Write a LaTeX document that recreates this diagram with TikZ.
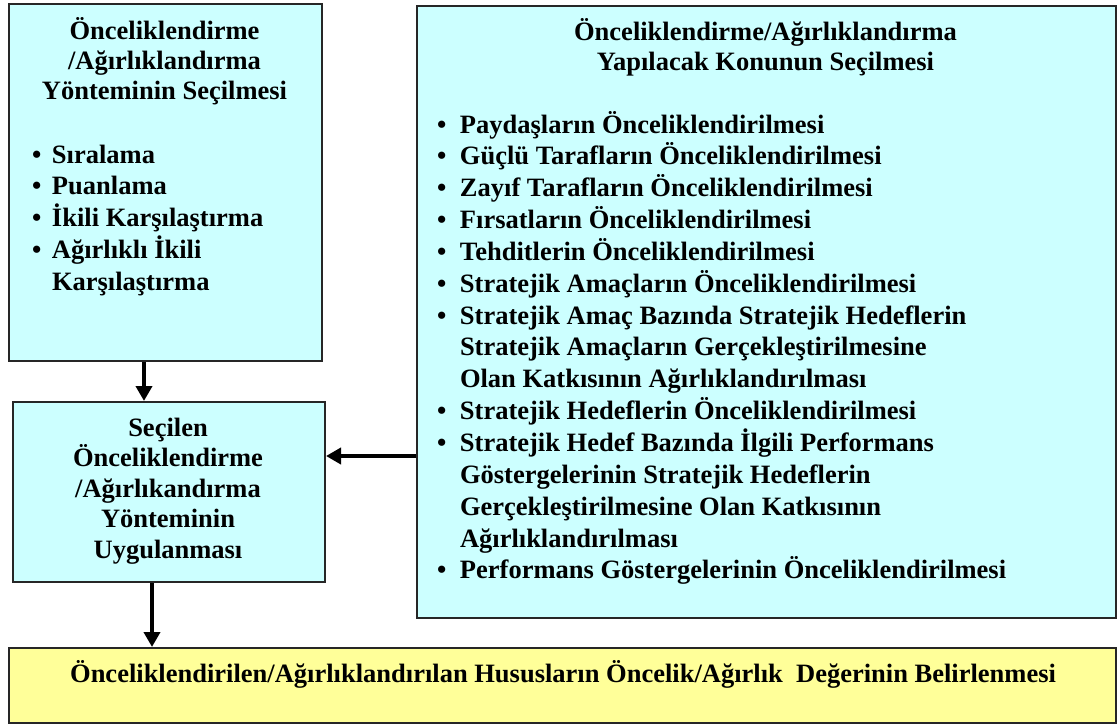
\documentclass[tikz,border=0pt]{standalone}
\usepackage{fontspec}
\setmainfont{Liberation Serif}
\usetikzlibrary{arrows.meta}
\definecolor{boxcyan}{HTML}{CCFFFF}
\definecolor{boxyellow}{HTML}{FFFF99}
\newcommand\bitem[2][23pt]{\par\hangindent=#1\hangafter=1\noindent\makebox[#1][l]{\textbullet}#2}
\newcommand\fixls{\lineskiplimit=-100pt\relax}
\tikzset{
  panel/.style={draw=black!85, line width=2pt, fill=boxcyan, anchor=north west, inner sep=0pt, rectangle},
  ypanel/.style={panel, fill=boxyellow},
  txt/.style={inner sep=0pt, outer sep=0pt, font={\fontsize{26.5}{31.85}\selectfont\bfseries\fixls}},
  ttl/.style={inner sep=0pt, outer sep=0pt, font={\fontsize{26.5}{30}\selectfont\bfseries\fixls}},
  arr/.style={line width=4.5pt, -{Triangle[length=15pt,width=16pt]}}
}
\begin{document}
\begin{tikzpicture}[x=1pt,y=-1pt]
\useasboundingbox (0,0) rectangle (1118,725);
% boxes
\node[panel, minimum width=313pt, minimum height=357pt] (b1) at (8,3) {};
\node[panel, minimum width=312pt, minimum height=180pt] (b2) at (12,401) {};
\node[panel, minimum width=699pt, minimum height=612pt] (b3) at (416,5) {};
\node[ypanel, minimum width=1107pt, minimum height=75pt] (b4) at (8,647) {};
% box 1 text
\node[ttl, anchor=base] (t1) at (164.5,40) {\parbox[t]{300pt}{\fixls\centering Önceliklendirme\\/Ağırlıklandırma\\Yönteminin Seçilmesi}};
\node[txt, anchor=base west] (l1) at (32,163) {\parbox[t]{285pt}{\fixls
\bitem[20pt]{Sıralama}\bitem[20pt]{Puanlama}\bitem[20pt]{İkili Karşılaştırma}\bitem[20pt]{Ağırlıklı İkili\newline Karşılaştırma}}};
% box 2 text
\node[inner sep=0pt, font={\fontsize{26.5}{30.5}\selectfont\bfseries}, anchor=base] (t2) at (168,436) {\parbox[t]{300pt}{\fixls\centering Seçilen\\Önceliklendirme\\/Ağırlıkandırma\\Yönteminin\\Uygulanması}};
% box 3 text
\node[ttl, anchor=base] (t3) at (765.5,41) {\parbox[t]{680pt}{\fixls\centering Önceliklendirme/Ağırlıklandırma\\Yapılacak Konunun Seçilmesi}};
\node[txt, anchor=base west] (l3) at (437,133) {\parbox[t]{670pt}{\fixls
\bitem{Paydaşların Önceliklendirilmesi}%
\bitem{Güçlü Tarafların Önceliklendirilmesi}%
\bitem{Zayıf Tarafların Önceliklendirilmesi}%
\bitem{Fırsatların Önceliklendirilmesi}%
\bitem{Tehditlerin Önceliklendirilmesi}%
\bitem{Stratejik Amaçların Önceliklendirilmesi}%
\bitem{Stratejik Amaç Bazında Stratejik Hedeflerin\newline Stratejik Amaçların Gerçekleştirilmesine\newline Olan Katkısının Ağırlıklandırılması}%
\bitem{Stratejik Hedeflerin Önceliklendirilmesi}%
\bitem{Stratejik Hedef Bazında İlgili Performans\newline Göstergelerinin Stratejik Hedeflerin\newline Gerçekleştirilmesine Olan Katkısının\newline Ağırlıklandırılması}%
\bitem{Performans Göstergelerinin Önceliklendirilmesi}}};
% box 4 text
\node[txt, anchor=base] (t4) at (563,682) {Önceliklendirilen/Ağırlıklandırılan Hususların Öncelik/Ağırlık\ \ Değerinin Belirlenmesi};
% connectors
\coordinate (ax1) at (144,0);
\coordinate (ax2) at (152,0);
\coordinate (ay) at (0,456);
\draw[arr] (b1.south -| ax1) -- (b2.north -| ax1);
\draw[arr] (b3.west |- ay) -- (b2.east |- ay);
\draw[arr] (b2.south -| ax2) -- (b4.north -| ax2);
\end{tikzpicture}
\end{document}
